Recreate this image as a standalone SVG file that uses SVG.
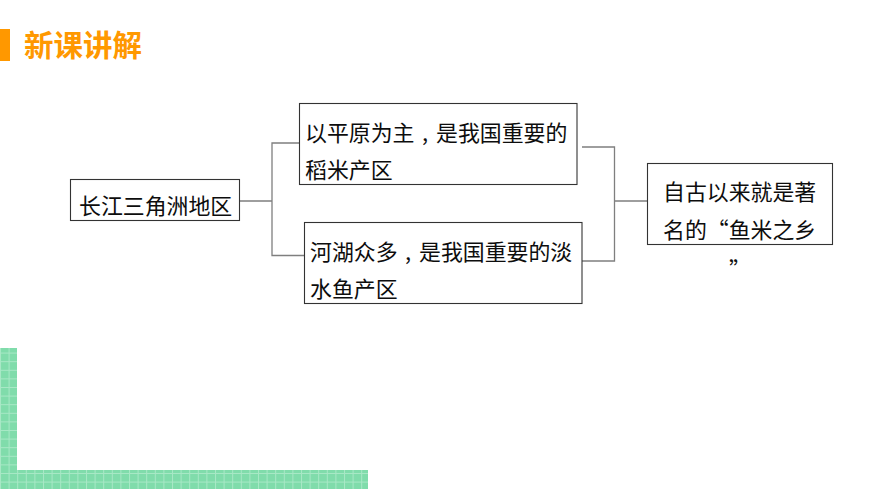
<svg xmlns="http://www.w3.org/2000/svg" width="870" height="489" viewBox="0 0 870 489">
<style>
.box{fill:#fff;stroke:#333;stroke-width:1.1}
.t{font-family:"Noto Sans CJK SC","Noto Sans",sans-serif;font-size:21.9px;fill:#0d0d0d}
.k{text-anchor:middle}
.c{fill:none;stroke:#7f7f7f;stroke-width:1.3}
.h{font-family:"Noto Sans CJK SC","Noto Sans",sans-serif;font-size:29.500px;font-weight:700;fill:#ff9800}
</style>
<defs>
<pattern id="g" width="8.6" height="8.6" patternUnits="userSpaceOnUse">
<rect width="8.6" height="8.6" fill="#80dcab"/>
<path d="M0 .5H8.6M.5 0V8.6" stroke="#a8e8c6" stroke-width="1" fill="none"/>
</pattern>
</defs>
<rect width="870" height="489" fill="#fff"/>
<g id="decor">
<rect x="0" y="29" width="10" height="32" fill="#ff9800"/>
<path d="M0 348H17V470H368V489H0Z" fill="url(#g)"/>
</g>
<g id="title"><text class="h" x="24" y="56">新课讲解</text></g>
<g id="connectors">
<path class="c" d="M240 201H272M299 143H272V255.500H304"/>
<path class="c" d="M582 147H614.500V261H582M614.500 201H647"/>
</g>
<g id="n1"><rect class="box" x="70.500" y="179.500" width="169" height="41"/>
<text class="t" x="79" y="214">长江三角洲地区</text></g>
<g id="n2"><rect class="box" x="299.500" y="103.500" width="277.500" height="81"/>
<text class="t" x="305" y="141">以平原为主</text>
<text class="t k" x="425" y="141">,</text>
<text class="t" x="436" y="141">是我国重要的</text>
<text class="t" x="305" y="178">稻米产区</text></g>
<g id="n3"><rect class="box" x="304.500" y="222.500" width="277.500" height="81"/>
<text class="t" x="310" y="260">河湖众多</text>
<text class="t k" x="408" y="260">,</text>
<text class="t" x="419" y="260">是我国重要的淡</text>
<text class="t" x="310" y="297">水鱼产区</text></g>
<g id="n4"><rect class="box" x="647.500" y="163.500" width="185" height="81"/>
<text class="t" x="663" y="200">自古以来就是著</text>
<text class="t" x="663" y="238">名的“鱼米之乡</text>
<text class="t" x="729" y="278">”</text></g>
</svg>
